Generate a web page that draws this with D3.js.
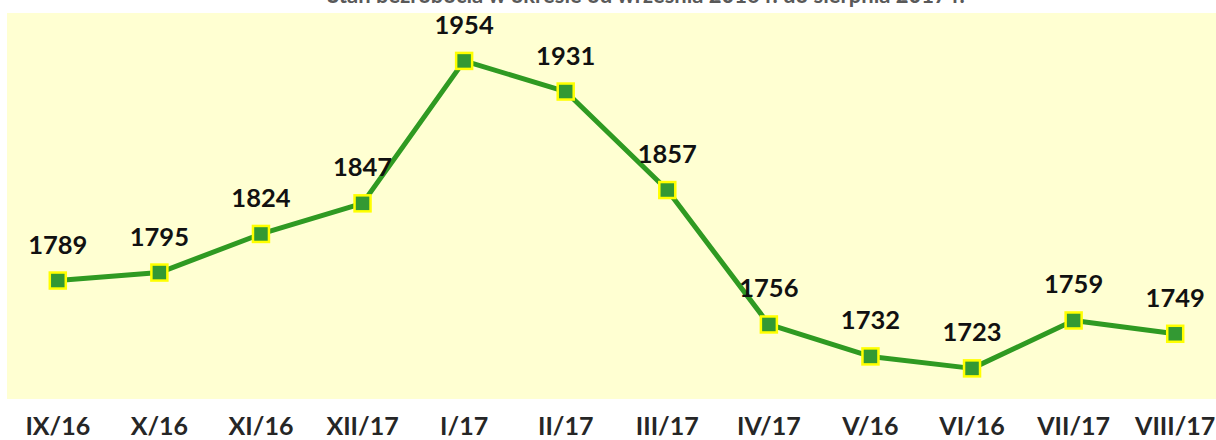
<!DOCTYPE html>
<html><head><meta charset="utf-8">
<script src="https://cdn.jsdelivr.net/npm/d3@7"></script>
<style>
html,body{margin:0;padding:0;background:#fff;}
svg{display:block;}
</style></head>
<body>
<svg id="c" width="1216" height="440"></svg>
<script>
const title = "Stan bezrobocia w okresie od września 2016 r. do sierpnia 2017 r.";
const categories = ["IX/16","X/16","XI/16","XII/17","I/17","II/17","III/17","IV/17","V/16","VI/16","VII/17","VIII/17"];
const values = [1789,1795,1824,1847,1954,1931,1857,1756,1732,1723,1759,1749];

const W = 1216, H = 440;
const plot = {left: 7, right: 1226, top: 13, bottom: 399};
const svg = d3.select("#c");
const font = "Lato, 'Open Sans', sans-serif";

svg.append("rect").attr("x", plot.left).attr("y", plot.top)
  .attr("width", W - plot.left).attr("height", plot.bottom - plot.top)
  .attr("fill", "#ffffd2");

const x = d3.scaleBand().domain(categories).range([plot.left, plot.right]);
const cx = c => x(c) + x.bandwidth() / 2;
const y = d3.scaleLinear().domain([1700, 1990]).range([plot.bottom, plot.top]);

svg.append("text").attr("x", 646).attr("y", 3).attr("text-anchor", "middle")
  .attr("font-family", font).attr("font-weight", "bold").attr("font-size", 22)
  .attr("fill", "#595959").text(title);

const data = categories.map((c, i) => ({c, v: values[i]}));

svg.append("path").datum(data)
  .attr("fill", "none").attr("stroke", "#2f9a22").attr("stroke-width", 5)
  .attr("stroke-linejoin", "round")
  .attr("d", d3.line().x(d => cx(d.c)).y(d => y(d.v)));

svg.selectAll("rect.m").data(data).join("rect").attr("class", "m")
  .attr("x", d => cx(d.c) - 8).attr("y", d => y(d.v) - 8)
  .attr("width", 16).attr("height", 16)
  .attr("fill", "#339933").attr("stroke", "#ffff00").attr("stroke-width", 2.5);

svg.selectAll("text.lbl").data(data).join("text").attr("class", "lbl")
  .attr("x", d => cx(d.c)).attr("y", d => y(d.v) - 27)
  .attr("text-anchor", "middle").attr("font-family", font)
  .attr("font-weight", "bold").attr("font-size", 25.5).attr("fill", "#111")
  .text(d => d.v);

const ax = svg.append("g").attr("transform", `translate(0,${plot.bottom})`)
  .call(d3.axisBottom(x).tickSize(0).tickPadding(0));
ax.select(".domain").remove();
ax.selectAll("text").attr("y", 36).attr("dy", 0)
  .attr("font-family", font).attr("font-weight", "bold").attr("font-size", 25)
  .attr("fill", "#262626");
</script>
</body></html>
